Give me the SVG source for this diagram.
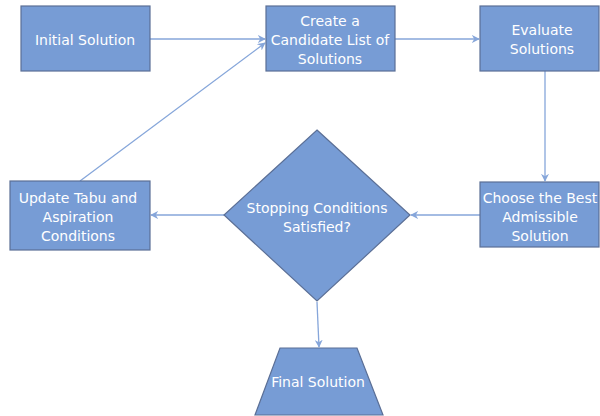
<svg xmlns="http://www.w3.org/2000/svg" width="600" height="416" viewBox="0 0 600 416">
<defs>
<style>
.n{fill:#779CD5;stroke:#5B6F96;stroke-width:1.2}
.t{fill:#fff;font-family:"DejaVu Sans",Verdana,sans-serif;font-size:14px;text-anchor:middle}
.c{stroke:#86A6DA;stroke-width:1.3;fill:none;marker-end:url(#a)}
</style>
<marker id="a" viewBox="0 0 10 10" refX="9" refY="5" markerWidth="8" markerHeight="8" markerUnits="userSpaceOnUse" orient="auto">
<path d="M0,0 L10,5 L0,10 L3,5 z" fill="#86A6DA"/>
</marker>
</defs>
<rect width="600" height="416" fill="#fff"/>
<g id="connectors">
<line class="c" x1="150" y1="39" x2="265" y2="39"/>
<line class="c" x1="395" y1="39" x2="479" y2="39"/>
<line class="c" x1="545" y1="71" x2="545" y2="181"/>
<line class="c" x1="480" y1="215" x2="411" y2="215"/>
<line class="c" x1="224" y1="215" x2="151" y2="215"/>
<line class="c" x1="80" y1="181" x2="265" y2="43"/>
<line class="c" x1="317" y1="302" x2="319" y2="347"/>
</g>
<g id="initial"><rect class="n" x="21" y="6" width="129" height="65"/><text class="t" x="85" y="45">Initial Solution</text></g>
<g id="create"><rect class="n" x="266" y="6" width="129" height="65"/><text class="t" x="330" y="26">Create a</text><text class="t" x="330" y="45">Candidate List of</text><text class="t" x="330" y="64">Solutions</text></g>
<g id="evaluate"><rect class="n" x="480" y="6" width="119" height="65"/><text class="t" x="542" y="35">Evaluate</text><text class="t" x="542" y="54">Solutions</text></g>
<g id="choose"><rect class="n" x="480" y="182" width="119" height="65"/><text class="t" x="540" y="203">Choose the Best</text><text class="t" x="540" y="222">Admissible</text><text class="t" x="540" y="241">Solution</text></g>
<g id="stopping"><polygon class="n" points="317,130 410,215 317,301 224,215"/><text class="t" x="317" y="213">Stopping Conditions</text><text class="t" x="317" y="232">Satisfied?</text></g>
<g id="update"><rect class="n" x="10" y="181" width="140" height="69"/><text class="t" x="78" y="203">Update Tabu and</text><text class="t" x="78" y="222">Aspiration</text><text class="t" x="78" y="241">Conditions</text></g>
<g id="final"><polygon class="n" points="280,348 357,348 383,415 255,415"/><text class="t" x="318" y="387">Final Solution</text></g>
</svg>
